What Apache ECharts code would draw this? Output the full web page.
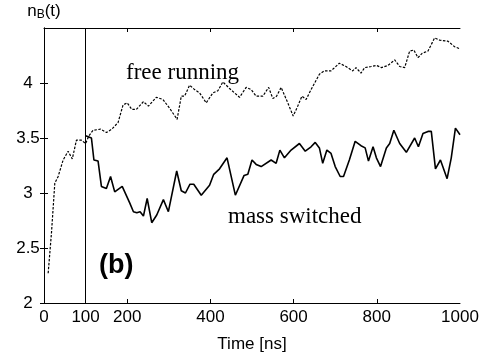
<!DOCTYPE html>
<html>
<head>
<meta charset="utf-8">
<script src="https://cdn.jsdelivr.net/npm/echarts@6/dist/echarts.min.js"></script>
<style>html,body{margin:0;padding:0;background:#fff}#c{width:487px;height:362px}</style>
</head>
<body>
<div id="c"></div>
<script>
// ---- data ----
const freeTime = [10,18,26,34,46,58,68,78,90,100,108,118,136,150,163,178,190,200,211,222,239,251,270,286,302,320,330,338,350,362,374,390,406,418,430,446,470,486,498,510,526,540,550,559,570,586,599,610,620,630,642,662,674,690,710,726,742,750,762,771,787,799,811,827,843,855,867,879,889,899,909,923,939,951,971,987,1000];
const freeValue = [2.27,2.64,3.09,3.15,3.30,3.38,3.31,3.48,3.48,3.45,3.52,3.57,3.58,3.55,3.58,3.64,3.80,3.82,3.76,3.76,3.83,3.79,3.87,3.85,3.77,3.67,3.88,3.88,3.98,3.94,3.91,3.82,3.91,3.93,4.01,3.95,3.87,3.96,3.94,3.88,3.88,3.96,3.86,3.88,3.96,3.82,3.70,3.79,3.88,3.85,3.94,4.08,4.11,4.11,4.18,4.15,4.11,4.14,4.09,4.14,4.15,4.16,4.14,4.16,4.21,4.15,4.14,4.29,4.30,4.23,4.27,4.29,4.41,4.39,4.38,4.33,4.31];
const massTime = [100,114,120,130,138,150,160,170,188,206,215,223,231,239,248,259,271,287,299,319,330,340,351,360,378,398,408,422,440,460,481,490,500,510,522,546,558,567,578,594,614,628,642,652,662,670,680,690,700,712,720,734,748,762,772,780,791,799,809,823,831,841,855,871,891,900,911,923,931,941,953,969,979,989,1000];
const massValue = [3.52,3.50,3.30,3.29,3.06,3.04,3.15,3.01,3.06,2.91,2.83,2.82,2.83,2.79,2.95,2.73,2.80,2.94,2.83,3.20,3.02,3.00,3.08,3.08,2.98,3.07,3.17,3.22,3.32,2.98,3.16,3.17,3.30,3.26,3.24,3.30,3.27,3.39,3.32,3.39,3.45,3.38,3.42,3.46,3.41,3.27,3.39,3.36,3.24,3.15,3.15,3.30,3.47,3.43,3.41,3.29,3.42,3.32,3.24,3.41,3.45,3.57,3.45,3.37,3.50,3.42,3.54,3.56,3.56,3.22,3.30,3.13,3.32,3.59,3.53];
const xLabels = [0,100,200,400,600,800,1000];
const xTicks = [200,400,600,800];
const yLabels = [2,2.5,3,3.5,4];
const switchTime = 100;
const seriesNames = ['free running','mass switched'];
const panelLabel = '(b)';

const FONT = '"Liberation Sans", Arial, sans-serif';
const SERIF = '"Liberation Serif", "Times New Roman", serif';
const chart = echarts.init(document.getElementById('c'), null, {renderer:'canvas'});
const axisLineStyle = {color:'#000', width:1};
chart.setOption({
  animation:false,
  backgroundColor:'#fff',
  grid:{left:44, right:27, top:28, bottom:59},
  xAxis:[{
    type:'value', min:0, max:1000, interval:100, position:'bottom',
    name:'Time [ns]', nameLocation:'middle', nameGap:33,
    nameTextStyle:{fontFamily:FONT, fontSize:17, color:'#000'},
    axisLine:{show:true, lineStyle:axisLineStyle},
    axisTick:{show:true, inside:true, length:4, customValues:xTicks, lineStyle:axisLineStyle},
    axisLabel:{customValues:xLabels, formatter:v=>String(v), fontFamily:FONT, fontSize:17, color:'#000', margin:6},
    splitLine:{show:false}
  },{
    type:'value', min:0, max:1000, interval:100, position:'top',
    axisLine:{show:true, lineStyle:axisLineStyle},
    axisTick:{show:true, inside:true, length:4, customValues:xTicks, lineStyle:axisLineStyle},
    axisLabel:{show:false}, splitLine:{show:false}
  }],
  yAxis:[{
    type:'value', min:2, max:4.5, interval:0.5, position:'left',
    name:'{n|n}{s|B}{n|(t)}', nameLocation:'end', nameGap:7,
    nameTextStyle:{align:'center', rich:{
      n:{fontFamily:FONT, fontSize:17, color:'#000'},
      s:{fontFamily:FONT, fontSize:12, color:'#000', padding:[7,0,0,0]}
    }},
    axisLine:{show:true, lineStyle:axisLineStyle},
    axisTick:{show:true, inside:true, length:4, customValues:yLabels, lineStyle:axisLineStyle},
    axisLabel:{customValues:yLabels, formatter:v=>String(v), fontFamily:FONT, fontSize:17, color:'#000', align:'center', margin:16},
    splitLine:{show:false}
  },{
    type:'value', min:2, max:4.5, interval:0.5, position:'right',
    axisLine:{show:true, lineStyle:axisLineStyle},
    axisTick:{show:true, inside:true, length:4, customValues:yLabels, lineStyle:axisLineStyle},
    axisLabel:{show:false}, splitLine:{show:false}
  }],
  series:[{
    name:seriesNames[0], type:'line', xAxisIndex:0, yAxisIndex:0,
    data:freeTime.map((t,i)=>[t, freeValue[i]]),
    showSymbol:false, symbol:'none',
    lineStyle:{color:'#000', width:1.2, type:[2.5,1.5]},
    markLine:{silent:true, symbol:'none', label:{show:false},
      lineStyle:{color:'#000', width:1, type:'solid'},
      data:[{xAxis:switchTime}]}
  },{
    name:seriesNames[1], type:'line', xAxisIndex:0, yAxisIndex:0,
    data:massTime.map((t,i)=>[t, massValue[i]]),
    showSymbol:false, symbol:'none',
    lineStyle:{color:'#000', width:1.6, type:'solid'}
  }],
  graphic:[
    {type:'text', left:126, top:61, style:{text:seriesNames[0], font:'23px '+SERIF, fill:'#000'}},
    {type:'text', left:228, top:205, style:{text:seriesNames[1], font:'23px '+SERIF, fill:'#000'}},
    {type:'text', left:99, top:252, style:{text:panelLabel, font:'bold 27px '+FONT, fill:'#000'}}
  ]
});
</script>
</body>
</html>
